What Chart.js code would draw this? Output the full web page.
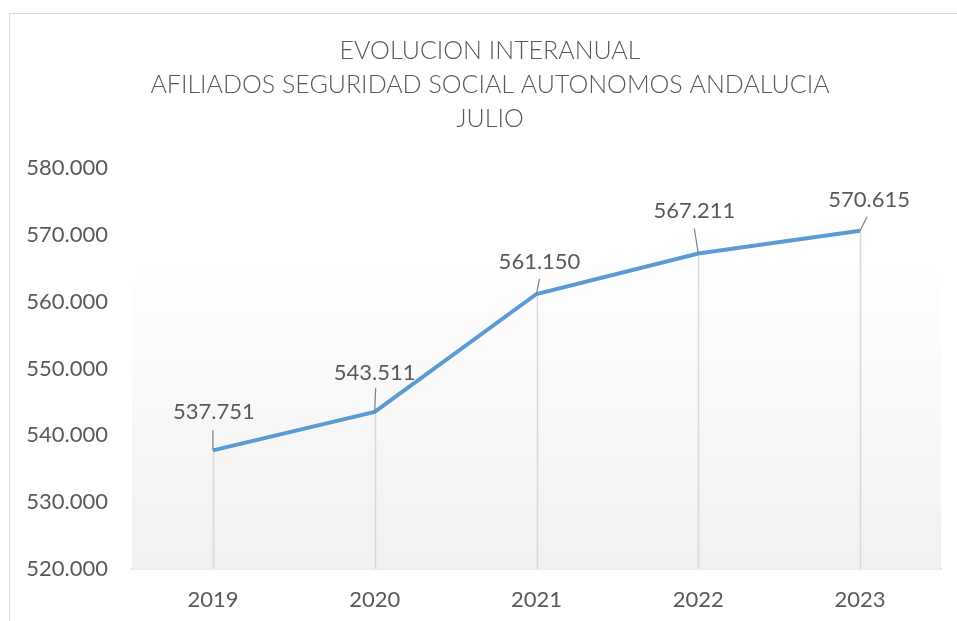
<!DOCTYPE html>
<html>
<head>
<meta charset="utf-8">
<script src="https://cdn.jsdelivr.net/npm/chart.js@4.4.1/dist/chart.umd.min.js"></script>
<style>
  html, body { margin: 0; padding: 0; background: #fff; }
  #wrap { position: relative; width: 957px; height: 621px; overflow: hidden; }
  #frame {
    position: absolute; left: 9px; top: 13px; width: 960px; height: 620px;
    border-left: 1px solid #d9d9d9; border-top: 1px solid #d9d9d9;
    pointer-events: none;
  }
  canvas { position: absolute; left: 0; top: 0; }
</style>
</head>
<body>
<div id="wrap">
  <canvas id="chart" width="957" height="621"></canvas>
  <div id="frame"></div>
</div>
<script>
const years = ["2019", "2020", "2021", "2022", "2023"];
const afiliados = [537751, 543511, 561150, 567211, 570615];
const titleLines = [
  "EVOLUCION INTERANUAL",
  "AFILIADOS SEGURIDAD SOCIAL AUTONOMOS ANDALUCIA",
  "JULIO"
];
const yMin = 520000;
const yMax = 580000;
const yStep = 10000;

function formatEs(v) {
  return String(Math.round(v)).replace(/\B(?=(\d{3})+(?!\d))/g, ".");
}

const textColor = "#595959";
const fontFamily = "Lato, 'Open Sans', sans-serif";

// label placement relative to each point (label centre, leader start)
const labelOffsets = [
  { dx: 1, dy: -38, lx: 0, ly: -20 },
  { dx: 0, dy: -39, lx: 1, ly: -24 },
  { dx: 3, dy: -32, lx: 3, ly: -15 },
  { dx: -4, dy: -43, lx: -4, ly: -25 },
  { dx: 9, dy: -31, lx: 7, ly: -14 },
];

// title centred on the chart frame rather than the canvas
const titlePlugin = {
  id: "frameTitle",
  afterDraw(chart) {
    const { ctx } = chart;
    ctx.save();
    ctx.font = "300 25px " + fontFamily;
    ctx.fillStyle = textColor;
    ctx.textAlign = "center";
    ctx.textBaseline = "middle";
    titleLines.forEach((line, i) => {
      ctx.fillText(line, 490, 51 + i * 34);
    });
    ctx.restore();
  },
};

const decorPlugin = {
  id: "decor",
  beforeDatasetsDraw(chart) {
    const { ctx, chartArea } = chart;
    const yScale = chart.scales.y;
    const meta = chart.getDatasetMeta(0);
    ctx.save();
    // soft gradient plot fill
    const top = chartArea.top + 85;
    const grad = ctx.createLinearGradient(0, top, 0, chartArea.bottom);
    grad.addColorStop(0, "#ffffff");
    grad.addColorStop(1, "#f1f1f1");
    ctx.fillStyle = grad;
    ctx.fillRect(chartArea.left, top, chartArea.right - chartArea.left, chartArea.bottom - top);

    // drop lines
    ctx.strokeStyle = "#d9d9d9";
    ctx.lineWidth = 1.5;
    meta.data.forEach((pt) => {
      ctx.beginPath();
      ctx.moveTo(Math.round(pt.x) + 0.5, pt.y);
      ctx.lineTo(Math.round(pt.x) + 0.5, yScale.getPixelForValue(yMin));
      ctx.stroke();
    });
    ctx.restore();
  },
  afterDatasetsDraw(chart) {
    const { ctx } = chart;
    const meta = chart.getDatasetMeta(0);
    ctx.save();
    ctx.font = "22px " + fontFamily;
    ctx.fillStyle = textColor;
    ctx.textAlign = "center";
    ctx.textBaseline = "middle";
    meta.data.forEach((pt, i) => {
      const o = labelOffsets[i];
      ctx.strokeStyle = "#7f7f7f";
      ctx.lineWidth = 1.2;
      ctx.beginPath();
      ctx.moveTo(pt.x + o.lx, pt.y + o.ly);
      ctx.lineTo(pt.x, pt.y);
      ctx.stroke();
      ctx.fillText(formatEs(afiliados[i]), pt.x + o.dx, pt.y + o.dy);
    });
    ctx.restore();
  },
};

const ctx = document.getElementById("chart").getContext("2d");
new Chart(ctx, {
  type: "line",
  data: {
    labels: years,
    datasets: [
      {
        data: afiliados,
        borderColor: "#5b9bd5",
        borderWidth: 4,
        pointRadius: 0,
        tension: 0,
        fill: false,
      },
    ],
  },
  options: {
    responsive: false,
    animation: false,
    layout: { padding: { left: 0, right: 16, top: 168, bottom: 0 } },
    plugins: {
      legend: { display: false },
      tooltip: { enabled: false },
      title: { display: false },
    },
    scales: {
      x: {
        offset: true,
        grid: { display: false, drawTicks: false },
        border: { display: true, color: "#d9d9d9", width: 1.5 },
        ticks: {
          color: textColor,
          font: { family: fontFamily, size: 22 },
          padding: 18,
        },
        afterFit(scale) {
          scale.height = 52;
        },
      },
      y: {
        min: yMin,
        max: yMax,
        grid: { display: false, drawTicks: false },
        border: { display: false },
        ticks: {
          stepSize: yStep,
          color: textColor,
          font: { family: fontFamily, size: 22 },
          padding: 24,
          callback: (v) => formatEs(v),
        },
        afterFit(scale) {
          scale.width = 132;
        },
      },
    },
  },
  plugins: [decorPlugin, titlePlugin],
});
</script>
</body>
</html>
